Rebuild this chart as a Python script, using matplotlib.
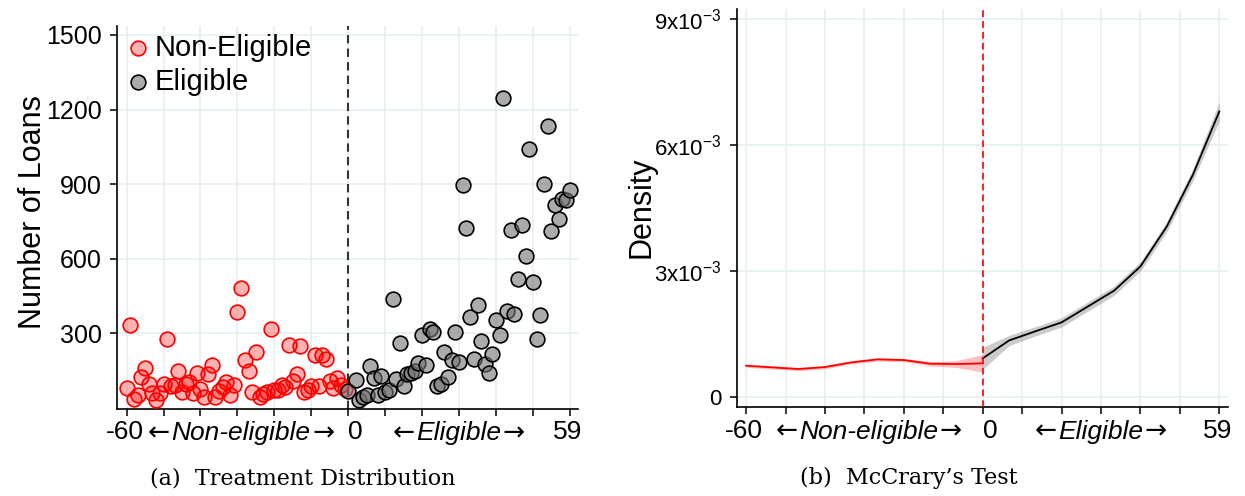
import matplotlib
matplotlib.use("Agg")
import matplotlib.pyplot as plt
import matplotlib.transforms as mtransforms
from matplotlib.offsetbox import TextArea, HPacker, AnnotationBbox

plt.rcParams['font.family'] = ['Liberation Sans', 'DejaVu Sans']
plt.rcParams['mathtext.fontset'] = 'custom'
plt.rcParams['mathtext.rm'] = 'Liberation Sans'

# ---------------- data: panel (a) ----------------
nonelig_x = list(range(-60, 0))
nonelig_y = [80, 332, 37, 53, 124, 162, 97, 60, 34, 60,
             95, 279, 88, 91, 148, 64, 97, 104, 60, 140,
             77, 46, 138, 171, 43, 68, 84, 104, 54, 91,
             386, 482, 194, 147, 66, 225, 44, 57, 64, 316,
             72, 73, 91, 84, 252, 108, 135, 249, 64, 72,
             87, 215, 87, 214, 198, 108, 82, 122, 94, 75]

elig_x = [0] + list(range(2, 61))
elig_y = [70,
          111, 33, 44, 54, 167, 120, 54, 127, 66,
          73, 440, 115, 262, 87, 138, 141, 148, 181, 292,
          171, 317, 305, 87, 98, 226, 125, 194, 306, 185,
          895, 723, 366, 198, 413, 268, 175, 139, 218, 352,
          293, 1246, 390, 715, 379, 520, 735, 611, 1041, 507,
          279, 375, 899, 1135, 712, 815, 758, 842, 838, 876]

# ---------------- data: panel (b) ----------------
dens_left_x = [-60, -53.3, -46.7, -40, -33.3, -26.7, -20, -13.3, -6.7, 0]
dens_left_y = [0.000738, 0.000698, 0.000659, 0.000706, 0.000817,
               0.000889, 0.000873, 0.000786, 0.000778, 0.000794]
dens_left_ci = [0.00004, 0.00004, 0.00004, 0.00004, 0.00004,
                0.00004, 0.00004, 0.00005, 0.00008, 0.00021]
dens_right_x = [0, 6.7, 13.3, 20, 26.7, 33.3, 40, 46.7, 53.3, 60]
dens_right_y = [0.000913, 0.00134, 0.001556, 0.00177, 0.00215,
                0.002524, 0.003103, 0.004056, 0.005286, 0.006793]
dens_right_ci = [0.00026, 0.00012, 0.00011, 0.00011, 0.00011,
                 0.00011, 0.00011, 0.00012, 0.00014, 0.00023]

xtick_pos = list(range(-60, 61, 10))
xlab_pos = [-60.6, -29, 2, 30, 59.5]
xlab_txt = ['-60', 'Non-eligible', '0', 'Eligible', '59']
xlab_arrows = [False, True, False, True, False]

ya_ticks = [300, 600, 900, 1200, 1500]
yb_ticks = [0, 0.003, 0.006, 0.009]
yb_labels = ['0', r'$\mathregular{3x10^{-3}}$', r'$\mathregular{6x10^{-3}}$', r'$\mathregular{9x10^{-3}}$']

GRID = '#e6eff1'
FS_X = 19

fig = plt.figure(figsize=(12.45, 4.96), dpi=100)
W, H = 1245, 496
axA = fig.add_axes([117 / W, 1 - 409 / H, (578 - 117) / W, (409 - 26) / H])
axB = fig.add_axes([737 / W, 1 - 407 / H, (1228 - 737) / W, (407 - 9) / H])


def style(ax):
    for s in ['top', 'right']:
        ax.spines[s].set_visible(False)
    for s in ['left', 'bottom']:
        ax.spines[s].set_linewidth(1.2)
        ax.spines[s].set_color('black')
    ax.set_xticks(xtick_pos)
    ax.set_xticklabels([''] * len(xtick_pos))
    ax.tick_params(axis='both', direction='out', length=5, width=1.1, colors='black')
    ax.grid(True, color=GRID, linewidth=1.2, zorder=0)
    ax.set_axisbelow(True)
    tr = mtransforms.blended_transform_factory(ax.transData, ax.transAxes)
    for xp, t, arr in zip(xlab_pos, xlab_txt, xlab_arrows):
        if arr:
            parts = [TextArea('\u2190', textprops=dict(family='DejaVu Sans', size=FS_X)),
                     TextArea(t, textprops=dict(style='italic', size=FS_X)),
                     TextArea('\u2192', textprops=dict(family='DejaVu Sans', size=FS_X))]
            box = HPacker(children=parts, align='baseline', pad=0, sep=1)
        else:
            box = TextArea(t, textprops=dict(size=FS_X))
        ab = AnnotationBbox(box, (xp, -0.03), xycoords=tr, box_alignment=(0.5, 1.0),
                            frameon=False, pad=0, annotation_clip=False)
        ax.add_artist(ab)


# ---- panel (a)
style(axA)
axA.set_xlim(-62.6, 62.2)
axA.set_ylim(-4, 1536)
axA.set_yticks(ya_ticks)
axA.set_yticklabels([str(v) for v in ya_ticks], fontsize=18)
axA.tick_params(axis='y', pad=6)
axA.axvline(0, color='#333333', linestyle=(0, (4, 2.5)), linewidth=1.5, zorder=1)
axA.scatter(nonelig_x, nonelig_y, s=112, facecolor=(1, 0, 0, 0.3), edgecolor='red',
            linewidth=1.2, zorder=3, label='Non-Eligible')
axA.scatter(elig_x, elig_y, s=112, facecolor=(0.45, 0.45, 0.45, 0.6), edgecolor='black',
            linewidth=1.2, zorder=3, label='Eligible')
axA.legend(loc='upper left', bbox_to_anchor=(-0.03, 1.025), frameon=False, fontsize=21,
           handletextpad=-0.05, labelspacing=0.2, borderaxespad=0.2, handlelength=1.2)
fig.text(33 / W, 1 - 212 / H, 'Number of Loans', rotation=90, ha='center', va='center', fontsize=22)

# ---- panel (b)
style(axB)
axB.set_xlim(-62.3, 62.2)
axB.set_ylim(-0.000245, 0.009233)
axB.set_yticks(yb_ticks)
axB.set_yticklabels(yb_labels, fontsize=16)
axB.tick_params(axis='y', pad=6)
lo = [y - c for y, c in zip(dens_left_y, dens_left_ci)]
hi = [y + c for y, c in zip(dens_left_y, dens_left_ci)]
axB.fill_between(dens_left_x, lo, hi, color=(1, 0, 0, 0.25), linewidth=0, zorder=2)
axB.plot(dens_left_x, dens_left_y, color='red', linewidth=1.3, zorder=3)
lo = [y - c for y, c in zip(dens_right_y, dens_right_ci)]
hi = [y + c for y, c in zip(dens_right_y, dens_right_ci)]
axB.fill_between(dens_right_x, lo, hi, color=(0.55, 0.55, 0.55, 0.45), linewidth=0, zorder=2)
axB.plot(dens_right_x, dens_right_y, color='black', linewidth=1.3, zorder=3)
axB.axvline(0, color='red', linestyle=(0, (4, 2.5)), linewidth=1.2, zorder=4)
fig.text(641 / W, 1 - 207 / H, 'Density', rotation=90, ha='center', va='center', fontsize=22)

# captions
fig.text(303 / W, 1 - 478 / H, '(a)  Treatment Distribution', ha='center', va='center',
         fontsize=16, family='DejaVu Serif')
fig.text(909 / W, 1 - 478 / H, '(b)  McCrary\u2019s Test', ha='center', va='center',
         fontsize=16, family='DejaVu Serif')

fig.savefig('out.png', dpi=100)
